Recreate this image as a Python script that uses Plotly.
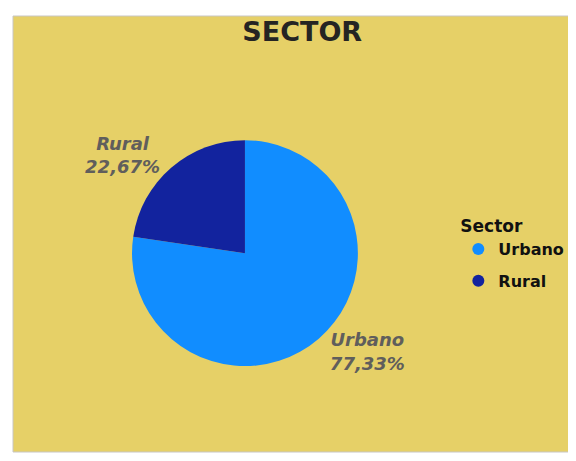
import plotly.graph_objects as go

sectors = ["Urbano", "Rural"]
shares = [77.33, 22.67]
colors = ["#118DFF", "#12239E"]

bg = "#E6D067"

fig = go.Figure()
fig.add_trace(go.Pie(
    labels=sectors,
    values=shares,
    marker=dict(colors=colors),
    sort=False,
    direction="clockwise",
    rotation=0,
    textposition="outside",
    texttemplate="<i><b>%{label}</b></i><br><i><b>%{percent:.2%}</b></i>",
    textfont=dict(family="DejaVu Sans", size=18, color="#605E5C"),
    showlegend=False,
    domain=dict(x=[0.211, 0.613], y=[0.197, 0.715]),
))

# legend entries with round markers
for name, col in zip(sectors, colors):
    fig.add_trace(go.Scatter(
        x=[None], y=[None], mode="markers", name=name, legendgroup=name,
        marker=dict(color=col, size=12, symbol="circle"),
    ))

fig.add_shape(type="rect", xref="paper", yref="paper", x0=0, x1=1, y0=0, y1=1,
              fillcolor=bg, line=dict(color="#C8C6C4", width=1), layer="below")

fig.update_layout(
    width=568, height=453,
    separators=",.",
    paper_bgcolor="white",
    plot_bgcolor=bg,
    margin=dict(l=5, r=0, t=8, b=9, autoexpand=False),
    title=dict(text="<b>SECTOR</b>", x=0.518, xanchor="center", y=0.949, yanchor="middle",
               font=dict(family="DejaVu Sans", size=27, color="#252423")),
    xaxis=dict(visible=False),
    yaxis=dict(visible=False),
    legend=dict(
        title=dict(text="<b>Sector</b>", font=dict(size=17, color="#111111")),
        x=0.791, xanchor="left", y=0.555, yanchor="top",
        font=dict(family="DejaVu Sans", size=16, color="#111111", weight="bold"),
        bgcolor="rgba(0,0,0,0)",
        itemwidth=30,
        tracegroupgap=8,
    ),
)

fig.write_html("out.html")
